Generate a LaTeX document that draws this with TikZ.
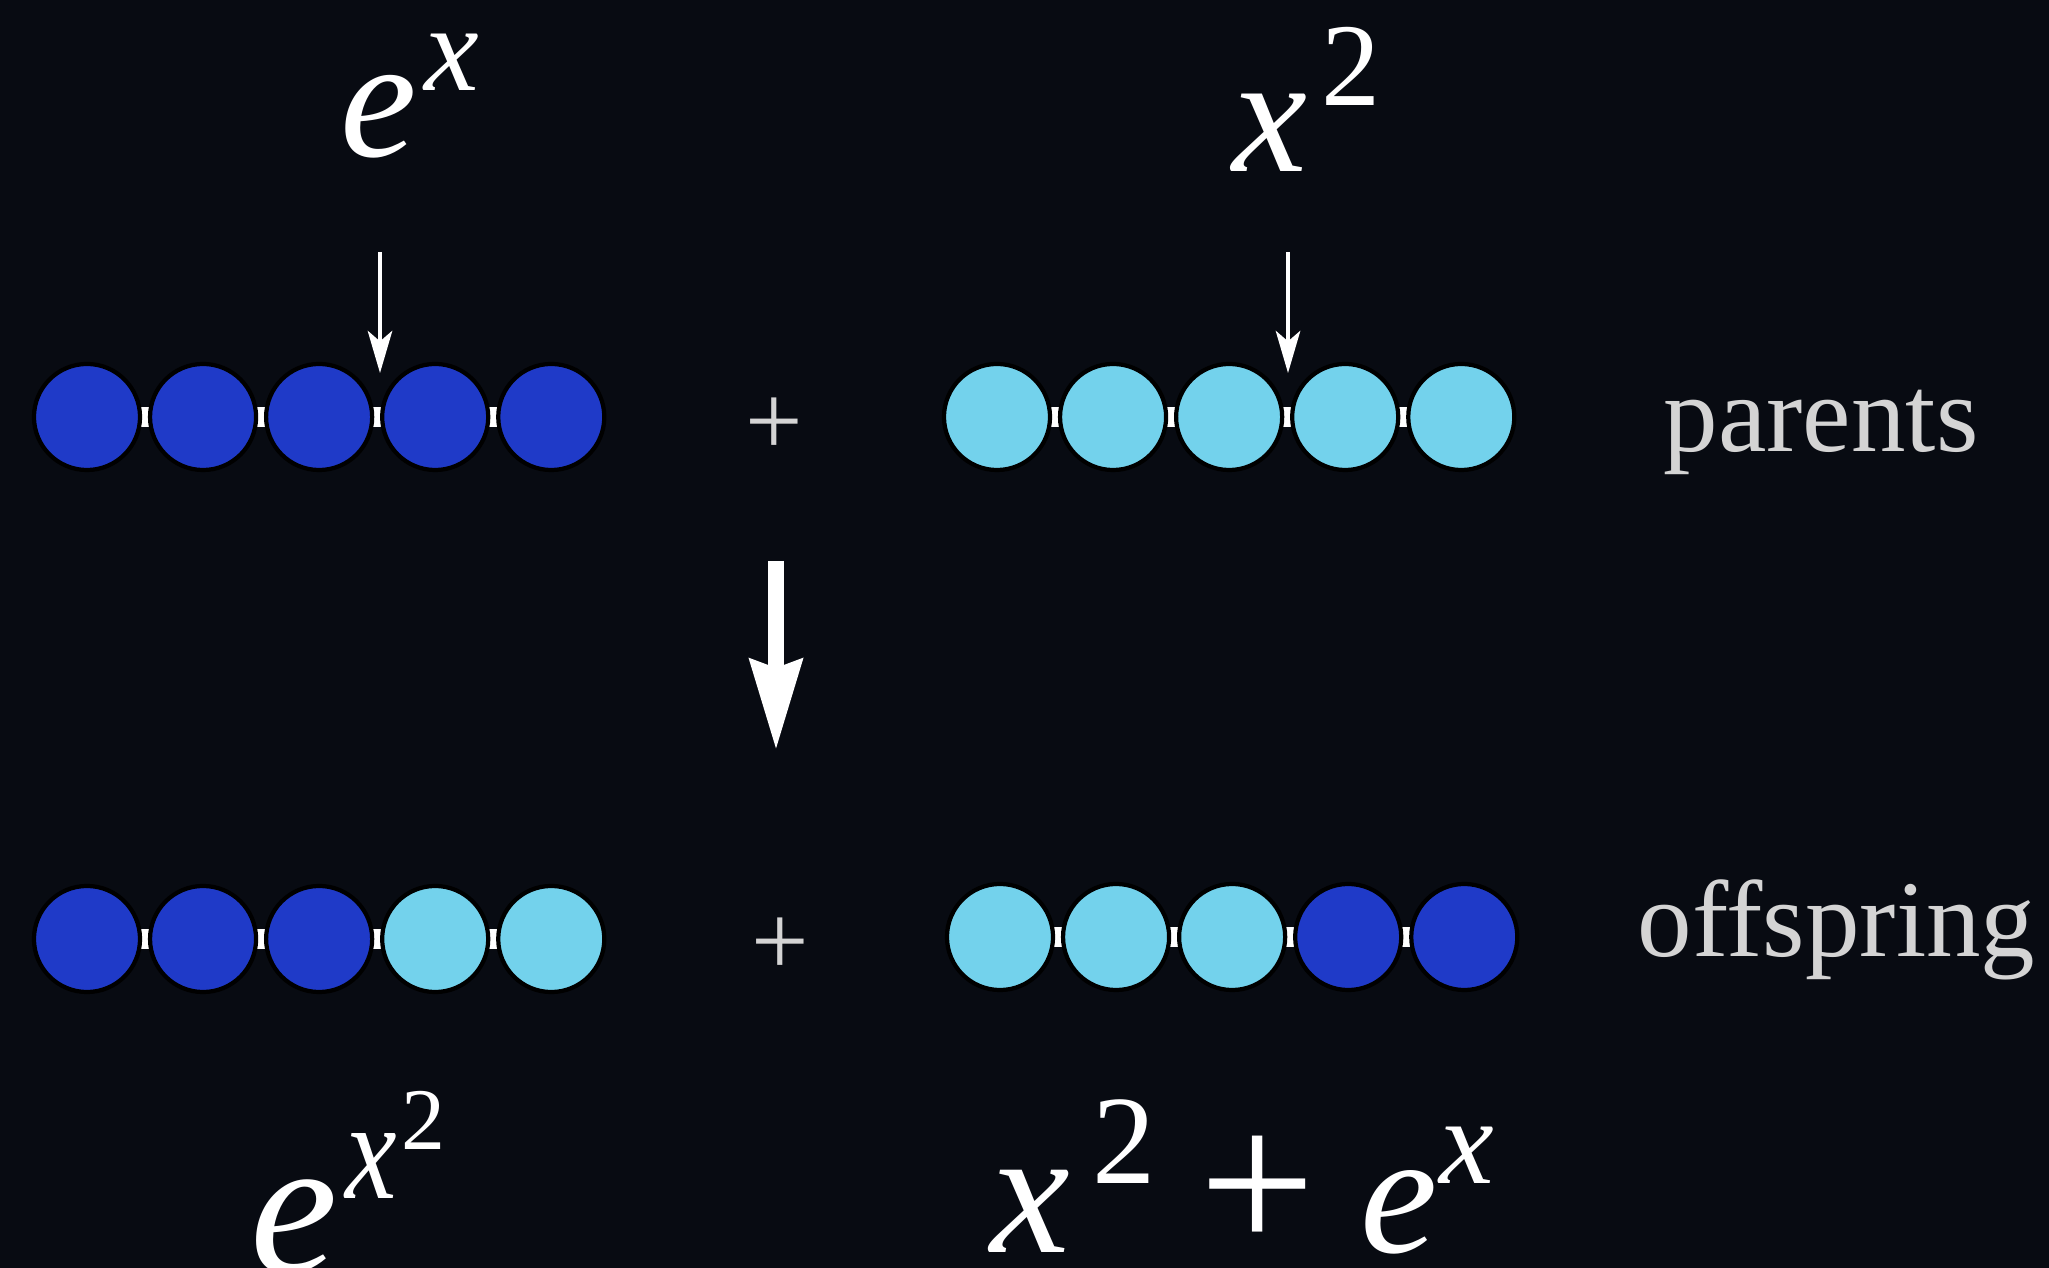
\documentclass[tikz,border=0pt]{standalone}
\usepackage{fontspec}
\usepackage{graphicx}
\setmainfont{Liberation Serif}
\usepackage{tikz}
\usetikzlibrary{positioning, arrows.meta, backgrounds}
\definecolor{night}{RGB}{8,11,18}
\definecolor{deep}{RGB}{31,58,200}
\definecolor{sky}{RGB}{115,210,236}
\definecolor{ash}{RGB}{212,212,212}
\newcommand{\fsz}[1]{\fontsize{#1}{#1}\selectfont}

\begin{document}
\begin{tikzpicture}[x=0.01cm, y=-0.01cm,
  gene/.style={circle, draw=black, line width=1.2pt, minimum size=1.06cm, inner sep=0pt, outer sep=0pt},
  dk/.style={gene, fill=deep},
  lt/.style={gene, fill=sky},
  link/.style={draw=white, line width=5.5pt},
  pick/.style={draw=white, line width=0.9pt, -{Stealth[length=12pt, width=7pt, inset=3pt]}},
  cross/.style={draw=white, line width=4.3pt, -{Stealth[length=25.6pt, width=14.6pt, inset=2.3pt]}},
  word/.style={anchor=base west, inner sep=0pt, text=ash, font=\fsz{31}},
  formula/.style={anchor=base west, inner sep=0pt, text=white},
  plus/.style={inner sep=0pt, text=ash, font=\fsz{29}},
  node distance=0.1cm]
\useasboundingbox (0,0) rectangle (2049,1268);
\begin{scope}[on background layer]
\fill[night] (0,0) rectangle (2049,1268);
\end{scope}
% parents
\node[dk] (pa1) at (87,417) {};
\node[dk, right=of pa1] (pa2) {};
\node[dk, right=of pa2] (pa3) {};
\node[dk, right=of pa3] (pa4) {};
\node[dk, right=of pa4] (pa5) {};
\node[lt] (pb1) at (997,417) {};
\node[lt, right=of pb1] (pb2) {};
\node[lt, right=of pb2] (pb3) {};
\node[lt, right=of pb3] (pb4) {};
\node[lt, right=of pb4] (pb5) {};
% offspring
\node[dk] (oa1) at (87,939) {};
\node[dk, right=of oa1] (oa2) {};
\node[dk, right=of oa2] (oa3) {};
\node[lt, right=of oa3] (oa4) {};
\node[lt, right=of oa4] (oa5) {};
\node[lt] (ob1) at (1000,937) {};
\node[lt, right=of ob1] (ob2) {};
\node[lt, right=of ob2] (ob3) {};
\node[dk, right=of ob3] (ob4) {};
\node[dk, right=of ob4] (ob5) {};
\begin{scope}[on background layer]
\draw[link] (pa1) -- (pa5);
\draw[link] (pb1) -- (pb5);
\draw[link] (oa1) -- (oa5);
\draw[link] (ob1) -- (ob5);
\end{scope}
\node[plus] (andp) at (774,427) {+};
\node[plus] (ando) at (780,947) {+};
\node[word] (par) at (1663,452) {parents};
\node[word] (off) at (1637,957) {offspring};
% cut points
\coordinate (cuta) at (380,252);
\coordinate (tipa) at (380,373);
\coordinate (cutb) at (1288,252);
\coordinate (tipb) at (1288,373);
\draw[pick] (cuta) -- (tipa);
\draw[pick] (cutb) -- (tipb);
\coordinate (bigtop) at (776,561);
\coordinate (bigtip) at (776,750);
\draw[cross] (bigtop) -- (bigtip);
% expressions
\node[formula] (ex) at (340,157) {{\fsz{49}\itshape e}\hspace{2pt}\raisebox{19pt}{\fsz{35}\itshape x}};
\node[formula] (xsq) at (1232,172) {{\fsz{48}\itshape x}\hspace{4pt}\raisebox{19pt}{\fsz{33.6}2}};
\node[formula] (exsq) at (250,1272) {{\fsz{56}\itshape e}\hspace{2pt}\raisebox{21pt}{\scalebox{1}[1.22]{\fsz{33}\itshape x}\hspace{1.4pt}\raisebox{13.7pt}{\fsz{25}2}}};
\node[formula] (sum) at (990,1252) {{\fsz{51}\itshape x}\hspace{6.4pt}\raisebox{19.6pt}{\fsz{36}2}\hspace{12.2pt}{\fsz{58.6}+}\hspace{13pt}{\fsz{49.5}\itshape e}\hspace{0.5pt}\raisebox{19.6pt}{\fsz{35}\itshape x}};
\end{tikzpicture}
\end{document}
